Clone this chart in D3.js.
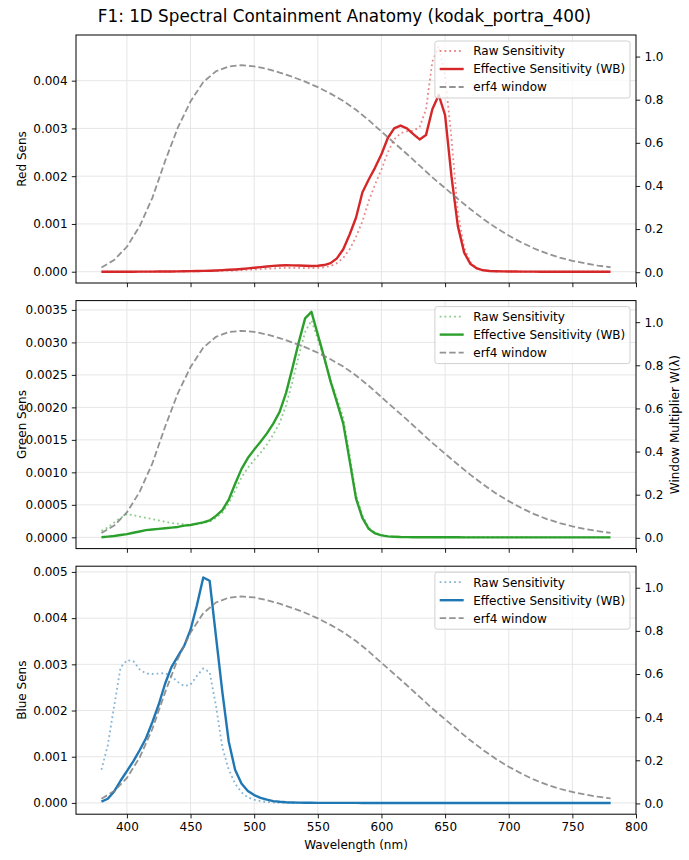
<!DOCTYPE html>
<html>
<head>
<meta charset="utf-8">
<script src="https://cdn.jsdelivr.net/npm/d3@7"></script>
<style>
	body { margin: 0; background: #fff; }
	svg { display: block; font-family: "DejaVu Sans", sans-serif; }
</style>
</head>
<body>
<svg width="689" height="860"></svg>
<script>
// sampling grid (nm)
const wavelengths = [
	380, 385, 390, 395, 400, 405, 410, 415, 420, 425, 430, 435, 440, 445, 450, 455,
	460, 465, 470, 475, 480, 485, 490, 495, 500, 505, 510, 515, 520, 525, 530, 535,
	540, 545, 550, 555, 560, 565, 570, 575, 580, 585, 590, 595, 600, 605, 610, 615,
	620, 625, 630, 635, 640, 645, 650, 655, 660, 665, 670, 675, 680, 685, 690, 695,
	700, 705, 710, 715, 720, 725, 730, 735, 740, 745, 750, 755, 760, 765, 770, 775, 780
];

const redRaw = [
	0.000003, 0.000003, 0.000003, 0.000003, 0.000004, 0.000004, 0.000004, 0.000004,
	0.000005, 0.000005, 0.000005, 0.000005, 0.000006, 0.000007, 0.000008, 0.000009,
	0.000011, 0.000013, 0.000016, 0.000019, 0.000023, 0.000027, 0.000033, 0.00004,
	0.000047, 0.000055, 0.000063, 0.00007, 0.000076, 0.00008, 0.00008, 0.000079,
	0.000076, 0.000075, 0.00008, 0.000093, 0.00012, 0.00018, 0.00029, 0.00047,
	0.00073, 0.00105, 0.00148, 0.00183, 0.00214, 0.0025, 0.00277, 0.0029,
	0.00294, 0.00295, 0.00303, 0.0034, 0.0044, 0.00472, 0.0041, 0.0028,
	0.00125, 0.0005, 0.00019, 0.00007, 0.00003, 0.000015, 0.00001, 0.000008,
	0.000007, 0.000006, 0.000005, 0.000004, 0.000004, 0.000003, 0.000003, 0.000002,
	0.000002, 0.000002, 0.000001, 0.000001, 0.000001, 0.000001, 0.000001, 0.000001, 0.000001
];
const redEff = [
	0, 0, 0, 0, 0.000001, 0.000001, 0.000002, 0.000002,
	0.000003, 0.000004, 0.000005, 0.000006, 0.000008, 0.00001, 0.000012, 0.000015,
	0.000018, 0.000022, 0.000027, 0.000033, 0.00004, 0.000048, 0.000058, 0.00007,
	0.000083, 0.000096, 0.00011, 0.000122, 0.00013, 0.000135, 0.000134, 0.00013,
	0.000124, 0.00012, 0.000125, 0.00014, 0.00018, 0.00028, 0.00047, 0.00078,
	0.00113, 0.00166, 0.00193, 0.00218, 0.00246, 0.0028, 0.003, 0.00306,
	0.003, 0.00288, 0.00277, 0.00286, 0.0034, 0.0037, 0.00328, 0.002,
	0.00096, 0.0004, 0.00016, 0.00007, 0.00003, 0.000015, 0.00001, 0.000007,
	0.000005, 0.000004, 0.000003, 0.000002, 0.000002, 0.000001, 0.000001, 0.000001,
	0.000001, 0, 0, 0, 0, 0, 0, 0, 0
];

const greenRaw = [
	0.0001, 0.00015, 0.00023, 0.0003, 0.00036, 0.00034, 0.00032, 0.0003,
	0.00028, 0.00026, 0.00024, 0.00022, 0.00021, 0.0002, 0.00019, 0.0002,
	0.00022, 0.00024, 0.0003, 0.00038, 0.00052, 0.00072, 0.00092, 0.00107,
	0.00119, 0.0013, 0.00143, 0.00158, 0.00176, 0.00203, 0.00239, 0.00279,
	0.00316, 0.00334, 0.00305, 0.00275, 0.00242, 0.00214, 0.00184, 0.00127,
	0.00066, 0.00034, 0.00015, 0.00007, 0.00004, 0.00002, 0.00001, 0.000006,
	0.000004, 0.000003, 0.000002, 0.000002, 0.000002, 0.000001, 0.000001, 0.000001,
	0.000001, 0.000001, 0.000001, 0.000001, 0.000001, 0.000001, 0.000001, 0.000001,
	0.000001, 0.000001, 0.000001, 0.000001, 0, 0, 0, 0,
	0, 0, 0, 0, 0, 0, 0, 0, 0
];
const greenEff = [
	0.000002, 0.00001, 0.00002, 0.000035, 0.00005, 0.00007, 0.00009, 0.00011,
	0.00012, 0.00013, 0.00014, 0.00015, 0.00016, 0.00018, 0.00019, 0.00021,
	0.00023, 0.00026, 0.00033, 0.00042, 0.00058, 0.00082, 0.00105, 0.00122,
	0.00135, 0.00147, 0.0016, 0.00175, 0.00193, 0.00222, 0.0026, 0.003,
	0.00337, 0.00347, 0.00312, 0.00277, 0.0024, 0.00208, 0.00175, 0.00118,
	0.0006, 0.0003, 0.00013, 0.00006, 0.00003, 0.000015, 0.00001, 0.000005,
	0.000003, 0.000002, 0.000002, 0.000001, 0.000001, 0.000001, 0.000001, 0.000001,
	0.000001, 0, 0, 0, 0, 0, 0, 0,
	0, 0, 0, 0, 0, 0, 0, 0,
	0, 0, 0, 0, 0, 0, 0, 0, 0
];

const blueRaw = [
	0.00072, 0.00125, 0.0021, 0.00293, 0.00309, 0.00307, 0.00289, 0.0028,
	0.00279, 0.0028, 0.00281, 0.00274, 0.00262, 0.00253, 0.00256, 0.00275,
	0.00291, 0.00283, 0.0021, 0.0012, 0.00072, 0.00042, 0.00023, 0.00012,
	0.00007, 0.00004, 0.00002, 0.00001, 0.000006, 0.000004, 0.000003, 0.000002,
	0.000001, 0.000001, 0.000001, 0.000001, 0, 0, 0, 0,
	0, 0, 0, 0, 0, 0, 0, 0,
	0, 0, 0, 0, 0, 0, 0, 0,
	0, 0, 0, 0, 0, 0, 0, 0,
	0, 0, 0, 0, 0, 0, 0, 0,
	0, 0, 0, 0, 0, 0, 0, 0, 0
];
const blueEff = [
	0.00003, 0.00009, 0.00025, 0.00048, 0.00069, 0.0009, 0.00114, 0.0014,
	0.00175, 0.00213, 0.00258, 0.00294, 0.00317, 0.0034, 0.00375, 0.00428,
	0.00488, 0.00481, 0.0036, 0.0024, 0.00133, 0.00072, 0.00042, 0.00026,
	0.00017, 0.00011, 0.00007, 0.00004, 0.000025, 0.000015, 0.00001, 0.000006,
	0.000004, 0.000003, 0.000002, 0.000002, 0.000001, 0.000001, 0.000001, 0.000001,
	0.000001, 0, 0, 0, 0, 0, 0, 0,
	0, 0, 0, 0, 0, 0, 0, 0,
	0, 0, 0, 0, 0, 0, 0, 0,
	0, 0, 0, 0, 0, 0, 0, 0,
	0, 0, 0, 0, 0, 0, 0, 0, 0
];

// erf4 window, read every 10 nm
const windowWl = [
	380, 390, 400, 410, 420, 430, 440, 450, 460, 470, 480, 490, 500, 510,
	520, 530, 540, 550, 560, 570, 580, 590, 600, 610, 620, 630, 640, 650,
	660, 670, 680, 690, 700, 710, 720, 730, 740, 750, 760, 770, 780
];
const windowVals = [
	0.022, 0.057, 0.118, 0.213, 0.345, 0.515, 0.67, 0.792, 0.882, 0.932, 0.954, 0.96, 0.955, 0.943,
	0.926, 0.906, 0.884, 0.858, 0.828, 0.794, 0.753, 0.705, 0.652, 0.6, 0.548, 0.494, 0.44, 0.39,
	0.34, 0.292, 0.247, 0.206, 0.17, 0.138, 0.11, 0.087, 0.068, 0.053, 0.041, 0.031, 0.023
];

const xTicks = [400, 450, 500, 550, 600, 650, 700, 750, 800];
const redTicks = [0, 0.001, 0.002, 0.003, 0.004];
const greenTicks = [0, 0.0005, 0.001, 0.0015, 0.002, 0.0025, 0.003, 0.0035];
const blueTicks = [0, 0.001, 0.002, 0.003, 0.004, 0.005];
const windowTicks = [0, 0.2, 0.4, 0.6, 0.8, 1.0];
const legendLabels = ['Raw Sensitivity', 'Effective Sensitivity (WB)', 'erf4 window'];

const panels = [
	{label: 'Red Sens', color: '#d62728', raw: redRaw, eff: redEff, ticks: redTicks, fmt: '.3f'},
	{label: 'Green Sens', color: '#2ca02c', raw: greenRaw, eff: greenEff, ticks: greenTicks, fmt: '.4f'},
	{label: 'Blue Sens', color: '#1f77b4', raw: blueRaw, eff: blueEff, ticks: blueTicks, fmt: '.3f'}
];

const svg = d3.select('svg');
const left = 76;
const right = 636;
const panelH = 248;
const panelTops = [35, 300.6, 566.2];
const fontSize = 12;
const gridColor = '#e6e6e6';
const winColor = 'rgba(128,128,128,0.85)';
const dotDash = '1.8,3';
const winDash = '6.5,3';

const xExt = d3.extent(wavelengths);
const xPad = (xExt[1] - xExt[0]) * 0.05;
const x = d3.scaleLinear().domain([xExt[0] - xPad, xExt[1] + xPad]).range([left, right]);

svg.append('text')
	.attr('x', 344.5)
	.attr('y', 22)
	.attr('text-anchor', 'middle')
	.style('font-size', '16.8px')
	.text('F1: 1D Spectral Containment Anatomy (kodak_portra_400)');

panels.forEach((p, i) => {
	const top = panelTops[i];
	const bottom = top + panelH;
	const ext = d3.extent(p.raw.concat(p.eff));
	const pad = (ext[1] - ext[0]) * 0.05;
	const y = d3.scaleLinear().domain([ext[0] - pad, ext[1] + pad]).range([bottom, top]);
	const y2 = d3.scaleLinear().domain([-0.05, 1.1]).range([bottom, top]);

	const g = svg.append('g');

	// grid
	g.append('g').selectAll('line.vx')
		.data(xTicks.filter(t => t < 800))
		.join('line')
		.attr('x1', d => x(d)).attr('x2', d => x(d))
		.attr('y1', top).attr('y2', bottom)
		.attr('stroke', gridColor).attr('stroke-width', 1);
	g.append('g').selectAll('line.hy')
		.data(p.ticks)
		.join('line')
		.attr('x1', left).attr('x2', right)
		.attr('y1', d => y(d)).attr('y2', d => y(d))
		.attr('stroke', gridColor).attr('stroke-width', 1);

	const line = d3.line().x((d, j) => x(wavelengths[j])).y(d => y(d));
	const winLine = d3.line().x((d, j) => x(windowWl[j])).y(d => y2(d));

	g.append('path')
		.datum(p.raw)
		.attr('d', line)
		.attr('fill', 'none')
		.attr('stroke', p.color)
		.attr('stroke-opacity', 0.55)
		.attr('stroke-width', 1.8)
		.attr('stroke-dasharray', dotDash);

	g.append('path')
		.datum(p.eff)
		.attr('d', line)
		.attr('fill', 'none')
		.attr('stroke', p.color)
		.attr('stroke-width', 2.4)
		.attr('stroke-linejoin', 'round');

	g.append('path')
		.datum(windowVals)
		.attr('d', winLine)
		.attr('fill', 'none')
		.attr('stroke', winColor)
		.attr('stroke-width', 1.8)
		.attr('stroke-dasharray', winDash);

	// axes
	const yAxis = d3.axisLeft(y).tickValues(p.ticks).tickFormat(d3.format(p.fmt))
		.tickSize(4.2).tickPadding(4.2).tickSizeOuter(0);
	const y2Axis = d3.axisRight(y2).tickValues(windowTicks).tickFormat(d3.format('.1f'))
		.tickSize(4.2).tickPadding(4.2).tickSizeOuter(0);
	const xAxis = d3.axisBottom(x).tickValues(xTicks).tickSize(4.2).tickPadding(4.2).tickSizeOuter(0);
	if (i < panels.length - 1) {
		xAxis.tickFormat('');
	}

	[
		g.append('g').attr('transform', 'translate(' + left + ',0)').call(yAxis),
		g.append('g').attr('transform', 'translate(' + right + ',0)').call(y2Axis),
		g.append('g').attr('transform', 'translate(0,' + bottom + ')').call(xAxis)
	].forEach(a => {
		a.select('.domain').remove();
		a.selectAll('text').style('font-size', fontSize + 'px').attr('fill', '#000')
			.style('font-family', '"DejaVu Sans", sans-serif');
		a.selectAll('line').attr('stroke', '#000').attr('stroke-width', 0.9);
	});

	g.append('rect')
		.attr('x', left).attr('y', top)
		.attr('width', right - left).attr('height', panelH)
		.attr('fill', 'none').attr('stroke', '#000').attr('stroke-width', 1);

	g.append('text')
		.attr('transform', 'translate(22,' + (top + panelH / 2) + ') rotate(-90)')
		.attr('text-anchor', 'middle')
		.attr('dy', '0.35em')
		.style('font-size', fontSize + 'px')
		.text(p.label);

	// legend
	const lg = g.append('g');
	const box = lg.append('rect');
	const rows = legendLabels.map((lab, k) => {
		const ry = top + 16 + k * 18;
		const r = lg.append('g');
		const style = [
			{stroke: p.color, op: 0.55, w: 1.8, dash: dotDash},
			{stroke: p.color, op: 1, w: 2.4, dash: null},
			{stroke: winColor, op: 1, w: 1.8, dash: winDash}
		][k];
		r.append('line')
			.attr('class', 'handle')
			.attr('y1', ry).attr('y2', ry)
			.attr('stroke', style.stroke)
			.attr('stroke-opacity', style.op)
			.attr('stroke-width', style.w)
			.attr('stroke-dasharray', style.dash);
		const t = r.append('text')
			.attr('y', ry)
			.attr('dy', '0.36em')
			.style('font-size', fontSize + 'px')
			.text(lab);
		return {r, t};
	});
	const maxW = d3.max(rows, d => d.t.node().getComputedTextLength());
	const boxRight = right - 6;
	const boxW = 4.8 + 24 + 9.6 + maxW + 4.8;
	const boxLeft = boxRight - boxW;
	rows.forEach(d => {
		d.r.select('.handle').attr('x1', boxLeft + 4.8).attr('x2', boxLeft + 28.8);
		d.t.attr('x', boxLeft + 38.4);
	});
	box.attr('x', boxLeft).attr('y', top + 6)
		.attr('width', boxW).attr('height', 57)
		.attr('rx', 2.5)
		.attr('fill', 'rgba(255,255,255,0.8)')
		.attr('stroke', '#d0d0d0')
		.attr('stroke-width', 1);
});

svg.append('text')
	.attr('transform', 'translate(675,' + (panelTops[1] + panelH / 2) + ') rotate(-90)')
	.attr('text-anchor', 'middle')
	.attr('dy', '0.35em')
	.style('font-size', fontSize + 'px')
	.text('Window Multiplier W(λ)');

svg.append('text')
	.attr('x', (left + right) / 2)
	.attr('y', 849)
	.attr('text-anchor', 'middle')
	.style('font-size', fontSize + 'px')
	.text('Wavelength (nm)');
</script>
</body>
</html>
